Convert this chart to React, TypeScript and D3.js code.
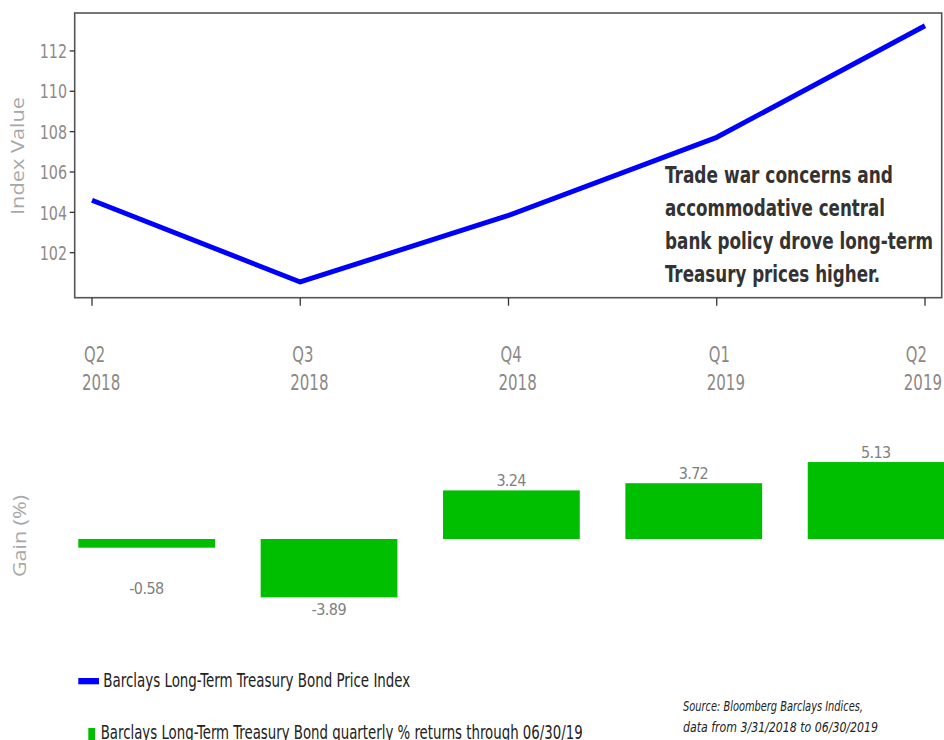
import React from "react";
import * as d3 from "d3";

const quarters = ["Q2 2018", "Q3 2018", "Q4 2018", "Q1 2019", "Q2 2019"];
const quarterLabels = [["Q2", "2018"], ["Q3", "2018"], ["Q4", "2018"], ["Q1", "2019"], ["Q2", "2019"]];
const indexValues = [104.6, 100.55, 103.85, 107.72, 113.25];
const quarterlyReturns = [-0.58, -3.89, 3.24, 3.72, 5.13];
const indexTicks = [102, 104, 106, 108, 110, 112];
const annotationLines = [
  "Trade war concerns and",
  "accommodative central",
  "bank policy drove long-term",
  "Treasury prices higher.",
];
const legendItems = [
  "Barclays Long-Term Treasury Bond Price Index",
  "Barclays Long-Term Treasury Bond quarterly % returns through 06/30/19",
];
const sourceLines = ["Source: Bloomberg Barclays Indices,", "data from 3/31/2018 to 06/30/2019"];

const NARROW = "'Liberation Sans Narrow', 'DejaVu Sans Condensed', 'DejaVu Sans', sans-serif";
const SANS = "'Open Sans', 'Noto Sans', sans-serif";

// approximate width of a condensed label (Myriad Condensed-like)
const condensedWidth = (s: string, em: number) =>
  s.split("").reduce((acc, c) => acc + (c === "." ? 0.26 : c === "-" ? 0.3 : c === "Q" ? 0.55 : 0.455) * em, 0);

export default function App() {
  const W = 944;
  const H = 740;
  // line chart frame
  const fL = 74.7, fR = 941.7, fT = 13, fB = 297.7;
  const x = d3.scalePoint<string>().domain(quarters).range([92, 925]);
  const y = d3.scaleLinear().domain([99.77, 113.88]).range([fB, fT]);
  const line = d3
    .line<number>()
    .x((_, i) => x(quarters[i]) as number)
    .y((d) => y(d));

  // bar chart
  const xb = d3.scaleBand<string>().domain(quarters).range([78.3, 944.5]).paddingInner(0.25).paddingOuter(0);
  const yb = d3.scaleLinear().domain([-4, 6]).range([599, 449]);
  const negLabelFloor = -2.47;

  return (
    <div style={{ position: "fixed", left: 0, top: 0, width: W, height: H, overflow: "hidden", background: "#fff" }}>
      <svg width={W} height={H} style={{ display: "block" }}>
        {/* frame */}
        <rect x={fL} y={fT} width={fR - fL} height={fB - fT} fill="none" stroke="#555" strokeWidth={1.6} />
        {/* y ticks */}
        {indexTicks.map((t) => (
          <g key={t}>
            <line x1={fL - 5} x2={fL} y1={y(t)} y2={y(t)} stroke="#333" strokeWidth={1.3} />
            <text
              x={67}
              y={y(t)}
              dy="0.36em"
              textAnchor="end"
              fontFamily={NARROW}
              fontSize={20}
              fill="#8f8a88"
              textLength={condensedWidth(String(t), 20)}
              lengthAdjust="spacingAndGlyphs"
            >
              {t}
            </text>
          </g>
        ))}
        <text
          transform={`translate(24,156) rotate(-90)`}
          textAnchor="middle"
          fontFamily={SANS}
          fontSize={18}
          fill="#a8a8a8"
          textLength={118}
          lengthAdjust="spacingAndGlyphs"
        >
          Index Value
        </text>
        {/* x ticks + labels */}
        {quarters.map((q, i) => (
          <g key={q}>
            <line x1={x(q)} x2={x(q)} y1={fB} y2={fB + 8} stroke="#333" strokeWidth={1.3} />
            {quarterLabels[i].map((s, j) => {
              const w = condensedWidth(s, 21);
              const lx = Math.min((x(q) as number) - 10, W - 2 - condensedWidth(quarterLabels[i][1], 21));
              return (
                <text
                  key={j}
                  x={lx + (j === 0 ? 2 : 0)}
                  y={362 + j * 28}
                  fontFamily={NARROW}
                  fontSize={22}
                  fill="#8c8886"
                  textLength={w}
                  lengthAdjust="spacingAndGlyphs"
                >
                  {s}
                </text>
              );
            })}
          </g>
        ))}
        {/* index line */}
        <path d={line(indexValues) || ""} fill="none" stroke="#0000ff" strokeWidth={5} strokeLinejoin="round" />
        {/* annotation */}
        {annotationLines.map((l, i) => (
          <text
            key={i}
            x={665}
            y={183 + i * 33}
            fontFamily={NARROW}
            fontWeight="bold"
            fontSize={23}
            fill="#333"
            textLength={[228, 220, 268, 215][i]}
            lengthAdjust="spacingAndGlyphs"
          >
            {l}
          </text>
        ))}

        {/* bar chart */}
        <text
          transform={`translate(26,536) rotate(-90)`}
          textAnchor="middle"
          fontFamily={SANS}
          fontSize={18}
          fill="#a8a8a8"
          textLength={82}
          lengthAdjust="spacingAndGlyphs"
        >
          Gain (%)
        </text>
        {quarterlyReturns.map((v, i) => {
          const q = quarters[i];
          const bx = xb(q) as number;
          const y0 = yb(0);
          const yv = yb(v);
          const cx = bx + xb.bandwidth() / 2;
          const label = v.toFixed(2);
          return (
            <g key={q}>
              <rect x={bx} y={Math.min(y0, yv)} width={xb.bandwidth()} height={Math.abs(yv - y0)} fill="#00bf00" />
              <text
                x={cx}
                y={v >= 0 ? yv - 4 : yb(Math.min(v, negLabelFloor)) + 18}
                textAnchor="middle"
                fontFamily={NARROW}
                fontSize={16}
                fill="#7f7f7f"
                textLength={label.replace("-", "").length * 7.5 + (v < 0 ? 5 : 0)}
                lengthAdjust="spacing"
              >
                {label}
              </text>
            </g>
          );
        })}

        {/* legend */}
        <rect x={78.3} y={678} width={20.7} height={6.3} fill="#0000ff" />
        <text x={103.3} y={687} fontFamily={NARROW} fontSize={20} fill="#222" textLength={307} lengthAdjust="spacingAndGlyphs">
          {legendItems[0]}
        </text>
        <rect x={88.3} y={728} width={6.7} height={14} fill="#00bf00" />
        <text x={100.7} y={739} fontFamily={NARROW} fontSize={20} fill="#222" textLength={482} lengthAdjust="spacingAndGlyphs">
          {legendItems[1]}
        </text>

        {/* source */}
        {sourceLines.map((s, i) => (
          <text
            key={i}
            x={683}
            y={711 + i * 21}
            fontFamily={NARROW}
            fontStyle="italic"
            fontSize={14}
            fill="#222"
            textLength={[180, 195][i]}
            lengthAdjust="spacingAndGlyphs"
          >
            {s}
          </text>
        ))}
      </svg>
    </div>
  );
}
